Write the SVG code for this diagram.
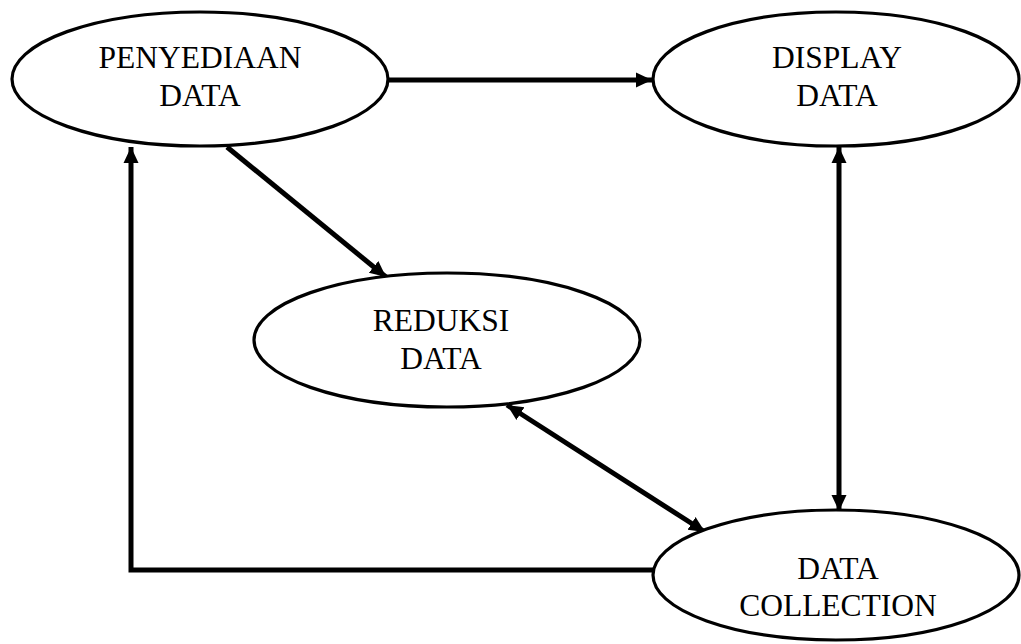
<svg xmlns="http://www.w3.org/2000/svg" width="1021" height="644" viewBox="0 0 1021 644">
  <style>
    .node ellipse { fill: #ffffff; stroke: #000000; stroke-width: 3.2; }
    .node text { font-family: "Liberation Serif", "Times New Roman", serif; font-size: 31.5px; fill: #000000; text-anchor: middle; }
    .edge { fill: none; stroke: #000000; stroke-width: 5; }
  </style>
  <defs>
    <marker id="arrow" markerUnits="userSpaceOnUse" markerWidth="18" markerHeight="18" refX="16" refY="9" orient="auto-start-reverse" viewBox="0 0 18 18">
      <path d="M0,1.5 L16,9 L0,16.5 Z" fill="#000000"/>
    </marker>
  </defs>
  <rect width="1021" height="644" fill="#ffffff"/>

  <g id="connectors">
    <!-- Penyediaan -> Display -->
    <line class="edge" x1="388" y1="80" x2="652" y2="80" marker-end="url(#arrow)"/>
    <!-- Penyediaan -> Reduksi -->
    <line class="edge" x1="227" y1="147" x2="386" y2="277" marker-end="url(#arrow)"/>
    <!-- Display <-> Data Collection -->
    <line class="edge" x1="839" y1="147" x2="839" y2="511" marker-start="url(#arrow)" marker-end="url(#arrow)"/>
    <!-- Reduksi <-> Data Collection -->
    <line class="edge" x1="507" y1="405" x2="705" y2="532" marker-start="url(#arrow)" marker-end="url(#arrow)"/>
    <!-- Data Collection -> Penyediaan (elbow) -->
    <polyline class="edge" points="653,570 131,570 131,147" marker-end="url(#arrow)"/>
  </g>

  <g id="node-penyediaan" class="node">
    <ellipse cx="200" cy="79" rx="188" ry="67"/>
    <text x="200" y="68">PENYEDIAAN</text>
    <text x="200" y="106">DATA</text>
  </g>

  <g id="node-display" class="node">
    <ellipse cx="836" cy="79" rx="183" ry="67"/>
    <text x="837" y="68">DISPLAY</text>
    <text x="837" y="106">DATA</text>
  </g>

  <g id="node-reduksi" class="node">
    <ellipse cx="447" cy="340" rx="193" ry="67"/>
    <text x="441" y="331">REDUKSI</text>
    <text x="441" y="369">DATA</text>
  </g>

  <g id="node-collection" class="node">
    <ellipse cx="836" cy="575" rx="183" ry="65"/>
    <text x="838" y="579">DATA</text>
    <text x="838" y="616">COLLECTION</text>
  </g>
</svg>
